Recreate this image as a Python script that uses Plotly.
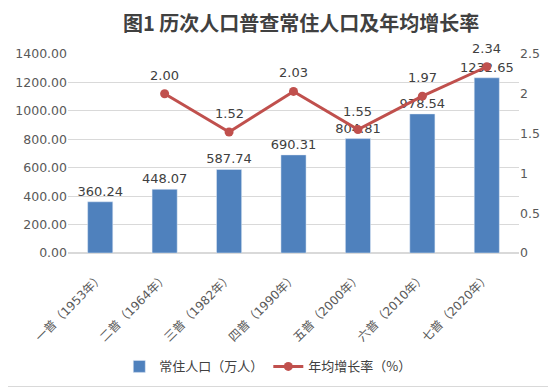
import plotly.graph_objects as go

categories = ["一普（1953年）", "二普（1964年）", "三普（1982年）", "四普（1990年）",
              "五普（2000年）", "六普（2010年）", "七普（2020年）"]
population = [360.24, 448.07, 587.74, 690.31, 804.81, 978.54, 1232.65]
growth = [None, 2.00, 1.52, 2.03, 1.55, 1.97, 2.34]

# The page body has an 8px default margin, so the figure is sized to fit the window.
W, H = 548, 380
ml, mr, mt, mb = 60, 37, 46, 135
FONT = "DejaVu Sans, Noto Sans CJK SC, sans-serif"

fig = go.Figure()
fig.add_trace(go.Bar(
    x=categories, y=population, name="常住人口（万人）",
    marker_color="#4F81BD", width=0.39,
    text=[f"{v:.2f}" for v in population], textposition="outside",
    constraintext="none",
    textfont=dict(size=13, color="#404040", family=FONT),
    cliponaxis=False, yaxis="y",
))
fig.add_trace(go.Scatter(
    x=categories, y=growth, name="年均增长率（%）",
    mode="lines+markers", line=dict(color="#C0504D", width=3),
    marker=dict(size=9, color="#C0504D"),
    cliponaxis=False, yaxis="y2",
))

annotations = []
for c, g in zip(categories, growth):
    if g is None:
        continue
    annotations.append(dict(x=c, y=g, xref="x", yref="y2", text=f"{g:.2f}",
                            showarrow=False, yanchor="bottom", yshift=9,
                            font=dict(size=13, color="#404040", family=FONT)))

pw = W - ml - mr
ph = H - mt - mb
fig.update_layout(
    width=W, height=H,
    margin=dict(l=ml, r=mr, t=mt, b=mb, autoexpand=False),
    paper_bgcolor="white", plot_bgcolor="white",
    font=dict(family=FONT, color="#595959", size=12),
    title=dict(text="<b>图1 历次人口普查常住人口及年均增长率</b>",
               x=0.535, xanchor="center", y=0.957, yanchor="middle",
               font=dict(size=20, color="#404040", family="Noto Sans CJK SC, sans-serif")),
    xaxis=dict(tickangle=-45, showgrid=False, showline=False, ticks="", automargin=False,
               ticklabelstandoff=14,
               tickfont=dict(size=12, color="#595959", family=FONT)),
    yaxis=dict(range=[0, 1400], dtick=200, tickformat=".2f", automargin=False,
               gridcolor="#D9D9D9", gridwidth=1, zeroline=True, zerolinecolor="#D9D9D9",
               showline=False, ticks="", tickfont=dict(size=12.5, color="#595959")),
    yaxis2=dict(range=[0, 2.5], dtick=0.5, overlaying="y", side="right", automargin=False,
                showgrid=False, zeroline=False, showline=False, ticks="",
                tickfont=dict(size=12.5, color="#595959")),
    legend=dict(orientation="h", x=0.443, xanchor="center", y=-0.57, yanchor="middle",
                font=dict(size=13, color="#404040", family="Noto Sans CJK SC, sans-serif"),
                bgcolor="rgba(0,0,0,0)"),
    annotations=annotations,
    shapes=[dict(type="rect", xref="paper", yref="paper",
                 x0=-(ml + 5) / pw, x1=1 + (mr - 1.5) / pw,
                 y0=-(mb - 1.5) / ph, y1=1 + (mt + 5) / ph,
                 line=dict(color="#D9D9D9", width=1), layer="below")],
)
fig.write_html("out.html")
